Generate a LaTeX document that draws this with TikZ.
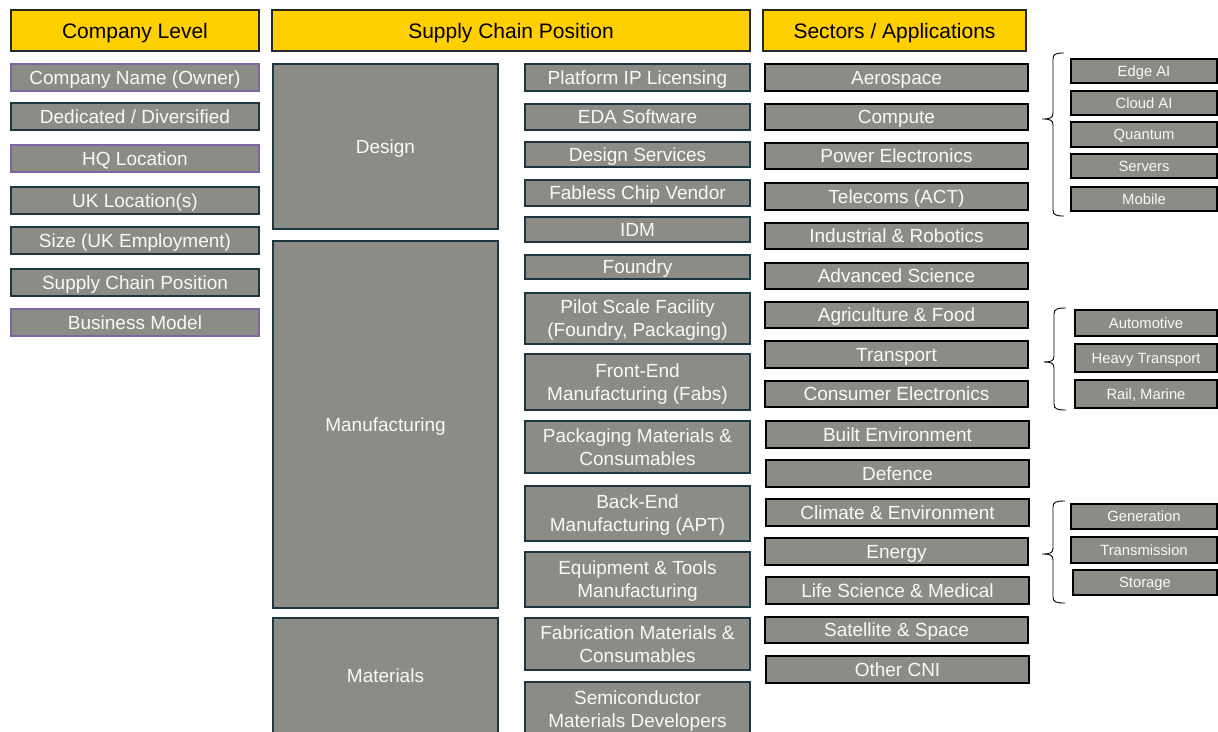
\documentclass[tikz,border=0pt]{standalone}
\usepackage{fontspec}
\setmainfont{Liberation Sans}
\definecolor{hdrY}{RGB}{255,208,0}
\definecolor{boxG}{RGB}{140,140,135}
\definecolor{edgeT}{RGB}{28,54,66}
\definecolor{edgeP}{RGB}{128,100,162}
\definecolor{txtW}{RGB}{248,248,248}
\tikzset{
  hdr/.style={draw=black!85, line width=1.6pt, fill=hdrY, text=black, font=\fontsize{21}{25}\selectfont, inner sep=0pt, text height=15pt, text depth=0pt},
  gbox/.style={draw=edgeT, line width=1.6pt, fill=boxG, text=txtW, font=\fontsize{19}{23}\selectfont, align=center, inner sep=0pt, text depth=0pt},
  gone/.style={gbox, text height=13.6pt},
  pbox/.style={gone, draw=edgeP},
  sbox/.style={gone, draw=black},
  subbox/.style={gone, draw=black, font=\fontsize{14.8}{17}\selectfont, text height=10.6pt},
  brc/.style={draw=black, line width=0.9pt}
}
\newcommand\bx[7]{\node[#2, minimum width={#5-#3}, minimum height={#6-#4}] (#1) at ({(#3+#5)/2},{(#4+#6)/2}) {#7};}
\newcommand\mybrace[6]{% xtip xv xarm top tip bot
  \draw[brc] (#3,#4) .. controls (#2+3,#4) and (#2,#4+1) .. (#2,#4+6) -- (#2,#5-6) .. controls (#2,#5-1) and (#2-3,#5) .. (#1,#5) .. controls (#2-3,#5) and (#2,#5+1) .. (#2,#5+6) -- (#2,#6-6) .. controls (#2,#6-1) and (#2+3,#6) .. (#3,#6);}
\begin{document}
\begin{tikzpicture}[x=1pt,y=-1pt]
\clip (0,0) rectangle (1218,731);
\fill[white] (0,0) rectangle (1218,731);
% headers
\bx{hCo}{hdr}{11}{10}{259}{51}{Company Level}
\bx{hSc}{hdr}{272}{10}{750}{51}{Supply Chain Position}
\bx{hSe}{hdr}{763}{10}{1026}{51}{Sectors / Applications}
% company level
\bx{c1}{pbox}{11}{64}{259}{91}{Company Name (Owner)}
\bx{c2}{gone}{11}{103}{259}{130}{Dedicated / Diversified}
\bx{c3}{pbox}{11}{145}{259}{172}{HQ Location}
\bx{c4}{gone}{11}{187}{259}{214}{UK Location(s)}
\bx{c5}{gone}{11}{227}{259}{254}{Size (UK Employment)}
\bx{c6}{gone}{11}{269}{259}{296}{Supply Chain Position}
\bx{c7}{pbox}{11}{309}{259}{336}{Business Model}
% supply chain big
\bx{design}{gone}{273}{64}{498}{229}{Design}
\bx{manuf}{gone}{273}{241}{498}{608}{Manufacturing}
\bx{mater}{gone}{273}{618}{498}{734}{Materials}
% supply chain detail
\bx{s1}{gone}{525}{64}{750}{91}{Platform IP Licensing}
\bx{s2}{gone}{525}{104}{750}{130}{EDA Software}
\bx{s3}{gone}{525}{142}{750}{167}{Design Services}
\bx{s4}{gone}{525}{180}{750}{206}{Fabless Chip Vendor}
\bx{s5}{gone}{525}{217}{750}{242}{IDM}
\bx{s6}{gone}{525}{255}{750}{279}{Foundry}
\bx{s7}{gbox}{525}{293}{750}{344}{Pilot Scale Facility\\(Foundry, Packaging)}
\bx{s8}{gbox}{525}{354}{750}{410}{Front-End\\Manufacturing (Fabs)}
\bx{s9}{gbox}{525}{421}{750}{473}{Packaging Materials \&\\Consumables}
\bx{s10}{gbox}{525}{486}{750}{541}{Back-End\\Manufacturing (APT)}
\bx{s11}{gbox}{525}{552}{750}{607}{Equipment \& Tools\\Manufacturing}
\bx{s12}{gbox}{525}{618}{750}{670}{Fabrication Materials \&\\Consumables}
\bx{s13}{gbox}{525}{682}{750}{736}{Semiconductor\\Materials Developers}
% sectors
\bx{a1}{sbox}{765}{64}{1028}{91}{Aerospace}
\bx{a2}{sbox}{765}{104}{1028}{130}{Compute}
\bx{a3}{sbox}{765}{143}{1028}{169}{Power Electronics}
\bx{a4}{sbox}{765}{183}{1028}{210}{Telecoms (ACT)}
\bx{a5}{sbox}{765}{223}{1028}{249}{Industrial \& Robotics}
\bx{a6}{sbox}{765}{263}{1028}{289}{Advanced Science}
\bx{a7}{sbox}{765}{302}{1028}{328}{Agriculture \& Food}
\bx{a8}{sbox}{765}{341}{1028}{368}{Transport}
\bx{a9}{sbox}{765}{381}{1028}{407}{Consumer Electronics}
\bx{a10}{sbox}{766}{421}{1029}{448}{Built Environment}
\bx{a11}{sbox}{766}{460}{1029}{487}{Defence}
\bx{a12}{sbox}{766}{499}{1029}{526}{Climate \& Environment}
\bx{a13}{sbox}{765}{538}{1028}{565}{Energy}
\bx{a14}{sbox}{766}{577}{1029}{604}{Life Science \& Medical}
\bx{a15}{sbox}{765}{617}{1028}{643}{Satellite \& Space}
\bx{a16}{sbox}{766}{656}{1029}{683}{Other CNI}
% sub-applications
\bx{e1}{subbox}{1071}{59}{1217}{83}{Edge AI}
\bx{e2}{subbox}{1071}{91}{1217}{115}{Cloud AI}
\bx{e3}{subbox}{1071}{122}{1217}{147}{Quantum}
\bx{e4}{subbox}{1071}{154}{1217}{178}{Servers}
\bx{e5}{subbox}{1071}{187}{1217}{211}{Mobile}
\bx{t1}{subbox}{1075}{310}{1217}{336}{Automotive}
\bx{t2}{subbox}{1075}{344}{1217}{372}{Heavy Transport}
\bx{t3}{subbox}{1075}{380}{1217}{408}{Rail, Marine}
\bx{g1}{subbox}{1071}{504}{1217}{529}{Generation}
\bx{g2}{subbox}{1071}{537}{1217}{563}{Transmission}
\bx{g3}{subbox}{1073}{570}{1217}{595}{Storage}
% braces
\mybrace{1042}{1053}{1064}{53}{119}{216}
\mybrace{1044}{1054}{1066}{308}{362}{410}
\mybrace{1042}{1053}{1065}{501}{554}{603}
\end{tikzpicture}
\end{document}
